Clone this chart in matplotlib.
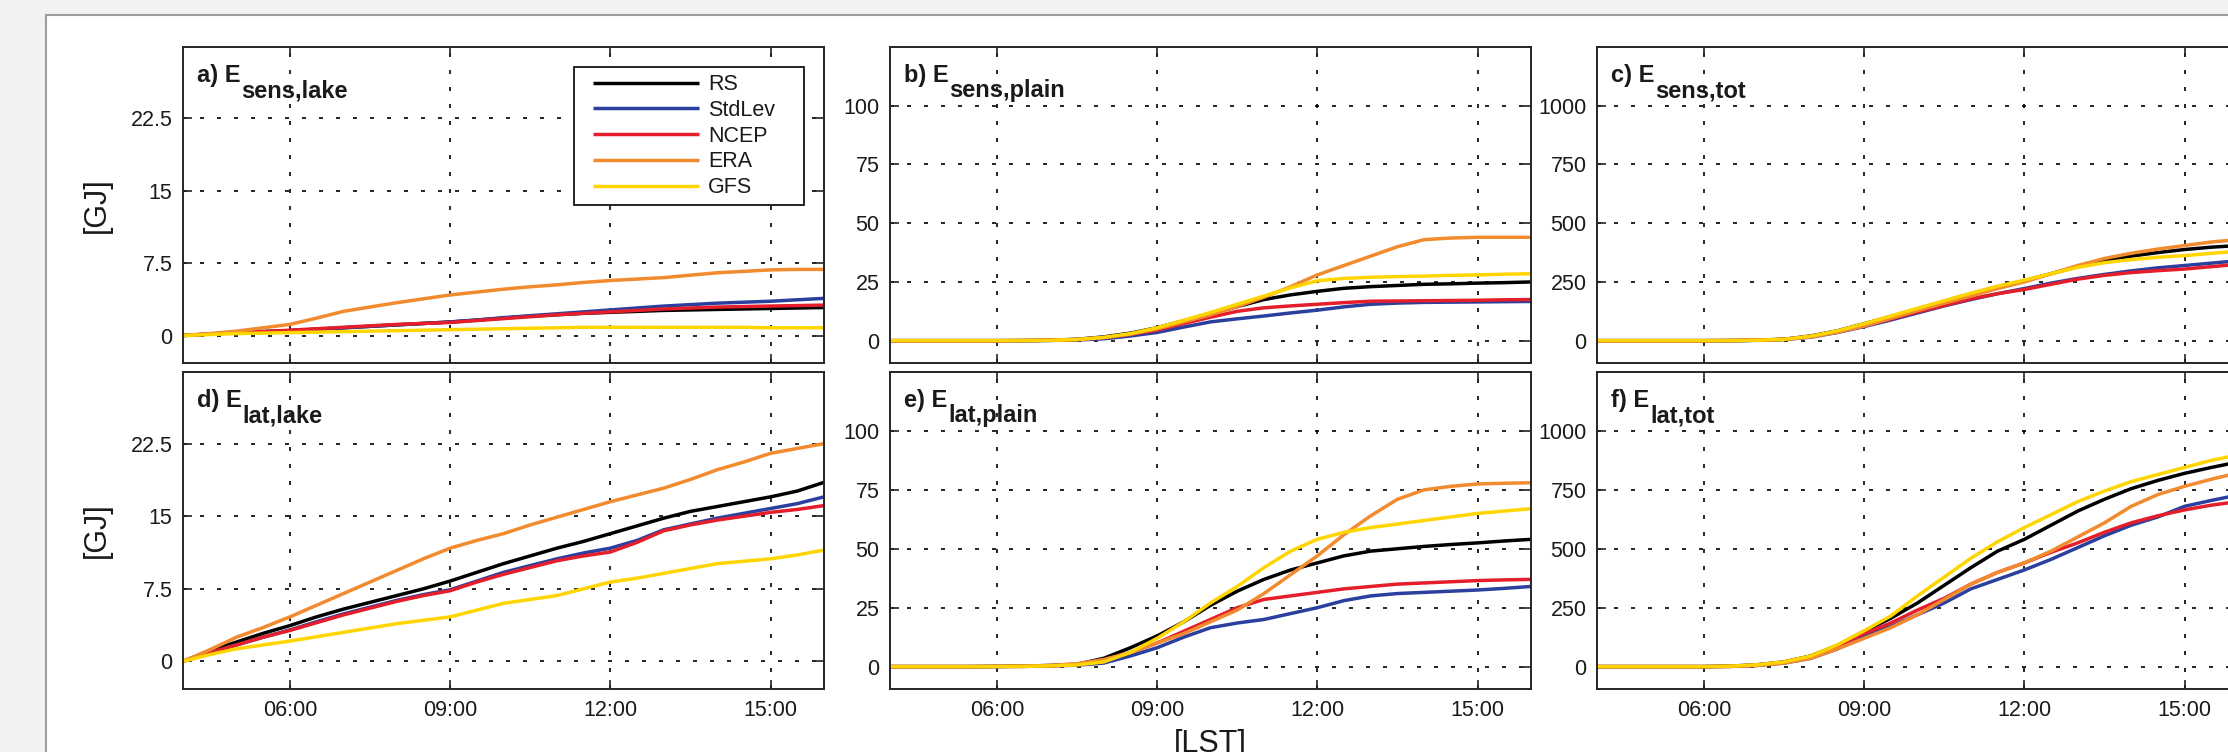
import matplotlib
matplotlib.use('Agg')
import matplotlib.pyplot as plt
from matplotlib.patches import Rectangle
from matplotlib.path import Path
import matplotlib.transforms as mtransforms

plt.rcParams['font.family'] = ['Liberation Sans', 'DejaVu Sans']

# ---------------- data ----------------
hours = [4.0, 4.5, 5.0, 5.5, 6.0, 6.5, 7.0, 7.5, 8.0, 8.5, 9.0, 9.5, 10.0,
         10.5, 11.0, 11.5, 12.0, 12.5, 13.0, 13.5, 14.0, 14.5, 15.0, 15.5, 16.0]
tick_hours = [6, 9, 12, 15]
tick_labels = ['06:00', '09:00', '12:00', '15:00']
series_names = ['RS', 'StdLev', 'NCEP', 'ERA', 'GFS']
series_colors = ['#000000', '#2b3f9e', '#e41e2b', '#f28a2e', '#ffd500']

# a) E_sens,lake
sens_lake_rs     = [0, 0.15, 0.3, 0.4, 0.5, 0.65, 0.8, 0.95, 1.1, 1.25, 1.4, 1.6, 1.8, 2.0, 2.15, 2.3, 2.4, 2.5, 2.6, 2.65, 2.7, 2.75, 2.8, 2.85, 2.9]
sens_lake_stdlev = [0, 0.15, 0.3, 0.4, 0.5, 0.65, 0.8, 0.95, 1.1, 1.25, 1.4, 1.6, 1.85, 2.05, 2.25, 2.45, 2.65, 2.85, 3.05, 3.2, 3.35, 3.45, 3.55, 3.7, 3.85]
sens_lake_ncep   = [0, 0.15, 0.3, 0.4, 0.55, 0.7, 0.85, 1.0, 1.15, 1.25, 1.35, 1.55, 1.75, 1.95, 2.15, 2.3, 2.45, 2.6, 2.75, 2.85, 2.95, 3.0, 3.05, 3.1, 3.15]
sens_lake_era    = [0, 0.2, 0.45, 0.8, 1.15, 1.8, 2.5, 2.95, 3.4, 3.8, 4.2, 4.5, 4.8, 5.05, 5.25, 5.5, 5.7, 5.85, 6.0, 6.25, 6.5, 6.65, 6.8, 6.85, 6.85]
sens_lake_gfs    = [0, 0.1, 0.2, 0.25, 0.3, 0.35, 0.4, 0.45, 0.5, 0.55, 0.6, 0.65, 0.7, 0.75, 0.8, 0.85, 0.85, 0.85, 0.85, 0.85, 0.85, 0.85, 0.8, 0.8, 0.8]

# b) E_sens,plain
sens_plain_rs     = [0, 0, 0, 0, 0, 0.05, 0.2, 0.6, 1.6, 3.2, 5.5, 8.5, 11.5, 14.5, 17.5, 19.5, 21.0, 22.3, 23.0, 23.5, 24.0, 24.2, 24.5, 24.7, 25.0]
sens_plain_stdlev = [0, 0, 0, 0, 0, 0, 0.1, 0.3, 0.8, 2.0, 3.5, 5.8, 8.0, 9.3, 10.5, 11.8, 13.0, 14.4, 15.5, 16.0, 16.3, 16.4, 16.5, 16.6, 16.7]
sens_plain_ncep   = [0, 0, 0, 0, 0, 0.05, 0.15, 0.5, 1.3, 2.7, 4.5, 7.3, 10.0, 12.5, 14.0, 14.8, 15.5, 16.2, 16.8, 16.9, 17.0, 17.1, 17.2, 17.4, 17.5]
sens_plain_era    = [0, 0, 0, 0, 0, 0.05, 0.2, 0.5, 1.3, 2.8, 5.0, 8.0, 11.0, 14.5, 18.5, 23.0, 28.0, 32.0, 36.0, 40.0, 43.0, 43.7, 44.0, 44.0, 44.0]
sens_plain_gfs    = [0, 0, 0, 0, 0, 0.05, 0.15, 0.5, 1.4, 3.0, 5.5, 8.7, 12.0, 15.5, 19.0, 22.5, 25.5, 26.5, 27.0, 27.3, 27.5, 27.8, 28.0, 28.3, 28.5]

# c) E_sens,tot
sens_tot_rs     = [0, 0, 0, 0, 0, 0.5, 2, 6, 20, 42, 72, 103, 135, 168, 200, 230, 255, 285, 315, 340, 360, 375, 388, 398, 405]
sens_tot_stdlev = [0, 0, 0, 0, 0, 0.3, 1.5, 5, 15, 35, 60, 88, 118, 148, 175, 200, 222, 245, 265, 282, 297, 310, 320, 330, 340]
sens_tot_ncep   = [0, 0, 0, 0, 0, 0.5, 2, 6, 18, 38, 63, 92, 122, 150, 178, 200, 218, 240, 262, 278, 290, 298, 305, 315, 325]
sens_tot_era    = [0, 0, 0, 0, 0, 0.5, 2, 5, 16, 36, 62, 95, 128, 160, 190, 222, 250, 285, 320, 350, 372, 390, 405, 420, 430]
sens_tot_gfs    = [0, 0, 0, 0, 0, 0.5, 2, 6, 19, 42, 72, 105, 138, 170, 202, 232, 258, 285, 312, 332, 345, 355, 362, 372, 380]

# d) E_lat,lake
lat_lake_rs     = [0, 1.1, 2.0, 2.9, 3.7, 4.6, 5.4, 6.1, 6.8, 7.5, 8.3, 9.2, 10.1, 10.9, 11.7, 12.4, 13.2, 14.0, 14.8, 15.5, 16.0, 16.5, 17.0, 17.6, 18.5]
lat_lake_stdlev = [0, 0.9, 1.7, 2.5, 3.25, 4.1, 4.9, 5.6, 6.3, 6.9, 7.4, 8.3, 9.2, 9.9, 10.6, 11.2, 11.7, 12.5, 13.6, 14.2, 14.8, 15.3, 15.8, 16.3, 17.0]
lat_lake_ncep   = [0, 0.9, 1.7, 2.5, 3.2, 4.0, 4.8, 5.5, 6.2, 6.8, 7.3, 8.2, 9.0, 9.7, 10.4, 10.9, 11.3, 12.3, 13.5, 14.1, 14.6, 15.0, 15.4, 15.7, 16.1]
lat_lake_era    = [0, 1.2, 2.5, 3.5, 4.6, 5.8, 7.0, 8.2, 9.4, 10.6, 11.7, 12.5, 13.2, 14.1, 14.9, 15.7, 16.5, 17.2, 17.9, 18.8, 19.8, 20.6, 21.5, 22.0, 22.5]
lat_lake_gfs    = [0, 0.7, 1.3, 1.7, 2.1, 2.55, 3.0, 3.45, 3.9, 4.25, 4.6, 5.3, 6.0, 6.4, 6.8, 7.5, 8.2, 8.6, 9.1, 9.6, 10.1, 10.35, 10.6, 11.0, 11.5]

# e) E_lat,plain
lat_plain_rs     = [0, 0, 0, 0, 0.1, 0.2, 0.5, 1.0, 3.5, 8.0, 13.0, 19.0, 26.0, 32.0, 37.0, 41.0, 44.0, 47.0, 49.0, 50.0, 51.0, 51.8, 52.5, 53.3, 54.0]
lat_plain_stdlev = [0, 0, 0, 0, 0.05, 0.1, 0.3, 0.6, 1.5, 4.5, 8.0, 12.5, 16.5, 18.5, 20.0, 22.5, 25.0, 28.0, 30.0, 31.0, 31.5, 32.0, 32.5, 33.2, 34.0]
lat_plain_ncep   = [0, 0, 0, 0, 0.05, 0.1, 0.3, 0.8, 2.5, 6.0, 10.0, 15.0, 20.0, 25.0, 28.5, 30.0, 31.5, 33.0, 34.0, 35.0, 35.5, 36.0, 36.5, 36.8, 37.0]
lat_plain_era    = [0, 0, 0, 0, 0.1, 0.2, 0.5, 1.2, 3.0, 6.0, 10.0, 14.0, 19.0, 24.0, 31.0, 39.0, 47.0, 56.0, 64.0, 71.0, 75.0, 76.5, 77.5, 77.8, 78.0]
lat_plain_gfs    = [0, 0, 0, 0, 0.05, 0.1, 0.3, 0.7, 2.0, 6.0, 12.0, 19.0, 27.0, 34.0, 42.0, 49.0, 54.0, 57.0, 59.0, 60.5, 62.0, 63.5, 65.0, 66.0, 67.0]

# f) E_lat,tot
lat_tot_rs     = [0, 0, 0, 0, 0, 2, 8, 20, 45, 90, 150, 205, 270, 345, 420, 490, 540, 600, 660, 710, 755, 790, 820, 845, 868]
lat_tot_stdlev = [0, 0, 0, 0, 0, 1, 5, 15, 35, 75, 130, 170, 220, 270, 330, 370, 410, 455, 505, 555, 600, 635, 680, 705, 728]
lat_tot_ncep   = [0, 0, 0, 0, 0, 1, 6, 18, 40, 85, 140, 185, 240, 290, 350, 400, 440, 485, 525, 570, 610, 640, 665, 685, 700]
lat_tot_era    = [0, 0, 0, 0, 0, 1, 5, 15, 35, 75, 120, 165, 220, 285, 350, 400, 440, 490, 550, 610, 680, 730, 765, 795, 822]
lat_tot_gfs    = [0, 0, 0, 0, 0, 2, 8, 20, 45, 92, 152, 215, 300, 380, 460, 530, 590, 645, 700, 745, 785, 815, 845, 875, 898]

lake_yticks = [0, 7.5, 15, 22.5]
lake_ylabels = ['0', '7.5', '15', '22.5']
plain_yticks = [0, 25, 50, 75, 100]
tot_yticks = [0, 250, 500, 750, 1000]

panels = [
    # (row, col, main title, subscript, series, yticks, yticklabels, ylim)
    (0, 0, 'a) E', 'sens,lake', [sens_lake_rs, sens_lake_stdlev, sens_lake_ncep, sens_lake_era, sens_lake_gfs],
     lake_yticks, lake_ylabels, (-2.85, 29.9)),
    (0, 1, 'b) E', 'sens,plain', [sens_plain_rs, sens_plain_stdlev, sens_plain_ncep, sens_plain_era, sens_plain_gfs],
     plain_yticks, [str(v) for v in plain_yticks], (-9.5, 125)),
    (0, 2, 'c) E', 'sens,tot', [sens_tot_rs, sens_tot_stdlev, sens_tot_ncep, sens_tot_era, sens_tot_gfs],
     tot_yticks, [str(v) for v in tot_yticks], (-95, 1250)),
    (1, 0, 'd) E', 'lat,lake', [lat_lake_rs, lat_lake_stdlev, lat_lake_ncep, lat_lake_era, lat_lake_gfs],
     lake_yticks, lake_ylabels, (-2.85, 29.9)),
    (1, 1, 'e) E', 'lat,plain', [lat_plain_rs, lat_plain_stdlev, lat_plain_ncep, lat_plain_era, lat_plain_gfs],
     plain_yticks, [str(v) for v in plain_yticks], (-9.5, 125)),
    (1, 2, 'f) E', 'lat,tot', [lat_tot_rs, lat_tot_stdlev, lat_tot_ncep, lat_tot_era, lat_tot_gfs],
     tot_yticks, [str(v) for v in tot_yticks], (-95, 1250)),
]

# ---------------- layout ----------------
W, H = 2228, 752
fig = plt.figure(figsize=(W / 100, H / 100), dpi=100, facecolor='#f2f2f2')

# page
fig.patches.append(Rectangle((46 / W, -0.1), 1.2, 1.1 - 15 / H, transform=fig.transFigure,
                             facecolor='white', edgecolor='#9c9c9c', linewidth=1.5, zorder=-5))

col_x = [(183, 824), (890, 1531), (1597, 2238)]
row_y = [(47, 363), (372, 689)]
TXT = '#1a1a1a'
TICK_FS = 15.5
TITLE_FS = 17

titles = []
axes = {}
for row, col, main, sub, series, yt, ytl, ylim in panels:
    x0, x1 = col_x[col]
    y0, y1 = row_y[row]
    ax = fig.add_axes([x0 / W, 1 - y1 / H, (x1 - x0) / W, (y1 - y0) / H])
    axes[(row, col)] = ax
    for vals, name, c in zip(series, series_names, series_colors):
        ax.plot(hours, vals, color=c, lw=2.5, label=name, solid_capstyle='butt')
    ax.set_xlim(4, 16)
    ax.set_ylim(*ylim)
    ax.set_xticks(tick_hours)
    ax.set_xticklabels(tick_labels)
    ax.set_yticks(yt)
    ax.set_yticklabels(ytl)
    ax.grid(True, color='k', linestyle=(0, (2.4, 7.8)), linewidth=1.2)
    ax.set_axisbelow(True)
    ax.tick_params(direction='in', length=6.5, width=1.2, top=True, right=True,
                   labelsize=TICK_FS, color='#222222', labelcolor=TXT)
    ax.tick_params(axis='x', pad=8.0, labelbottom=(row == 1))
    ax.tick_params(axis='y', pad=7.5)
    for s in ax.spines.values():
        s.set_linewidth(1.4)
        s.set_color('#262626')
    t = ax.text(0.0215, 0.889, main, transform=ax.transAxes, fontsize=TITLE_FS,
                fontweight='bold', ha='left', va='baseline', color=TXT, zorder=10)
    titles.append((ax, t, sub))

for r in (0, 1):
    ax = axes[(r, 0)]
    ax.set_ylabel('[GJ]', fontsize=22, color=TXT)
    ax.yaxis.set_label_coords(-0.1108, 0.5)

axe = axes[(1, 1)]
axe.set_xlabel('[LST]', fontsize=22, color=TXT)
axe.xaxis.set_label_coords(0.5, -0.127)

# legend in panel a
axa = axes[(0, 0)]
leg = axa.legend(loc='upper right', bbox_to_anchor=(0.9345, 0.9367), borderaxespad=0,
                 fontsize=15.5, handlelength=4.9, handletextpad=0.42, borderpad=0.33,
                 labelspacing=0.22, fancybox=False, framealpha=1, edgecolor='k')
leg.get_frame().set_linewidth(1.2)
for txt in leg.get_texts():
    txt.set_color(TXT)


def legend_box(x0, y0, width, height, mutation_size):
    left = x0 - 12
    right = x0 + width + 22
    return Path([(left, y0), (right, y0), (right, y0 + height), (left, y0 + height), (left, y0)],
                closed=True)


leg.legendPatch.set_boxstyle(legend_box)

# subscripts placed right after the main title text
fig.canvas.draw()
renderer = fig.canvas.get_renderer()
for ax, t, sub in titles:
    bb = t.get_window_extent(renderer)
    xa = ax.transAxes.inverted().transform((bb.x1 + 1, bb.y0))[0]
    tr = mtransforms.offset_copy(ax.transAxes, fig=fig, x=0, y=-15, units='dots')
    ax.text(xa, 0.889, sub, transform=tr, fontsize=TITLE_FS, fontweight='bold',
            ha='left', va='baseline', color=TXT, zorder=10)

fig.savefig('out.png', dpi=100, facecolor=fig.get_facecolor())
